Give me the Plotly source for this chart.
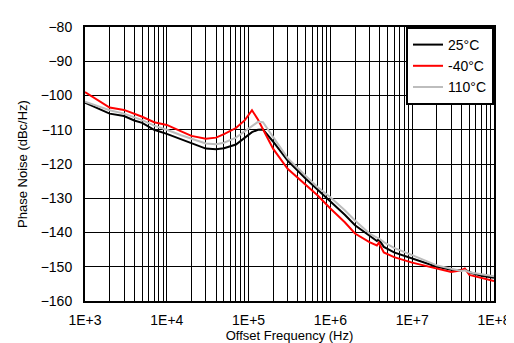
import plotly.graph_objects as go

# Offset frequency (Hz)
freq = [1e3, 1.5e3, 2e3, 3e3, 4e3, 5e3, 7e3, 1e4, 1.5e4, 2e4, 3e4, 4e4, 5e4,
        7e4, 9e4, 1.1e5, 1.3e5, 1.5e5, 2e5, 3e5, 5e5, 7e5, 1e6, 1.5e6, 2e6,
        3e6, 3.7e6, 3.9e6, 4.5e6, 6e6, 1e7, 2e7, 3e7, 4e7, 4.4e7, 5e7, 7e7, 1e8]

# Phase noise (dBc/Hz)
pn_25c = [-102.1, -104.0, -105.3, -106.0, -107.3, -108.0, -110.0, -111.2, -112.8,
          -113.8, -115.5, -115.7, -115.4, -114.3, -112.3, -110.7, -110.0, -109.9,
          -113.5, -119.0, -124.3, -127.5, -131.0, -134.8, -137.9,
          -141.0, -142.5, -142.0, -144.2, -145.8, -147.6, -150.0, -150.9, -151.0,
          -150.8, -151.6, -152.6, -153.2]
pn_m40c = [-99.0, -101.5, -103.5, -104.2, -105.3, -106.2, -107.8, -108.6, -110.5,
           -111.8, -112.6, -112.3, -111.3, -109.5, -107.2, -104.3, -107.0, -109.8,
           -115.6, -121.4, -126.0, -129.2, -133.0, -137.0, -140.3,
           -142.8, -143.8, -143.0, -145.8, -147.2, -148.8, -150.6, -151.5, -151.0,
           -150.5, -152.4, -153.3, -154.2]
pn_110c = [-101.8, -103.2, -104.3, -105.3, -106.3, -107.2, -108.8, -110.0, -111.6,
           -112.6, -114.0, -114.2, -113.8, -112.3, -110.5, -108.8, -107.7, -107.8,
           -112.0, -118.3, -123.5, -126.8, -129.7, -133.5, -136.5,
           -140.3, -141.5, -141.7, -142.8, -144.5, -146.6, -149.6, -150.6, -151.2,
           -151.0, -151.6, -152.2, -152.8]

series = [("25°C", pn_25c, "black"),
          ("-40°C", pn_m40c, "#ff0000"),
          ("110°C", pn_110c, "#bdbdbd")]

# grid / tick positions
decades = [1e3, 1e4, 1e5, 1e6, 1e7, 1e8]
x_tick_labels = ["1E+3", "1E+4", "1E+5", "1E+6", "1E+7", "1E+8"]
y_ticks = [-160, -150, -140, -130, -120, -110, -100, -90, -80]

x_tickvals = []
x_ticktext = []
for d, lab in zip(decades, x_tick_labels):
    x_tickvals.append(d)
    x_ticktext.append(lab)
    if d < 1e8:
        for m in range(2, 10):
            x_tickvals.append(d * m)
            x_ticktext.append("")

fig = go.Figure()
for name, vals, col in series:
    fig.add_trace(go.Scatter(x=freq, y=vals, name=name, mode="lines",
                             line=dict(color=col, width=2)))

fnt = "Liberation Sans"

fig.update_layout(
    width=514, height=343,
    margin=dict(l=77, r=23, t=11, b=48),
    paper_bgcolor="white", plot_bgcolor="white",
    font=dict(family=fnt, size=14, color="black"),
    legend=dict(x=1, xanchor="right", y=1, yanchor="top",
                bgcolor="white", bordercolor="black", borderwidth=2,
                font=dict(size=14), tracegroupgap=0, itemwidth=30),
    xaxis=dict(type="log", range=[3, 8],
               tickvals=x_tickvals, ticktext=x_ticktext,
               tickfont=dict(size=14),
               showgrid=True, gridcolor="black", gridwidth=1,
               showline=True, linecolor="black", linewidth=2, mirror=True,
               ticks="outside", ticklen=5, tickcolor="rgba(0,0,0,0)",
               title=dict(text="Offset Frequency (Hz)", font=dict(size=13),
                          standoff=3),
               zeroline=False),
    yaxis=dict(range=[-160, -80], tickvals=y_ticks,
               tickfont=dict(size=14),
               showgrid=True, gridcolor="black", gridwidth=1,
               showline=True, linecolor="black", linewidth=2, mirror=True,
               ticks="outside", ticklen=8, tickcolor="rgba(0,0,0,0)",
               title=dict(text="Phase Noise (dBc/Hz)", font=dict(size=13),
                          standoff=10),
               zeroline=False),
)

fig.write_html("out.html")
